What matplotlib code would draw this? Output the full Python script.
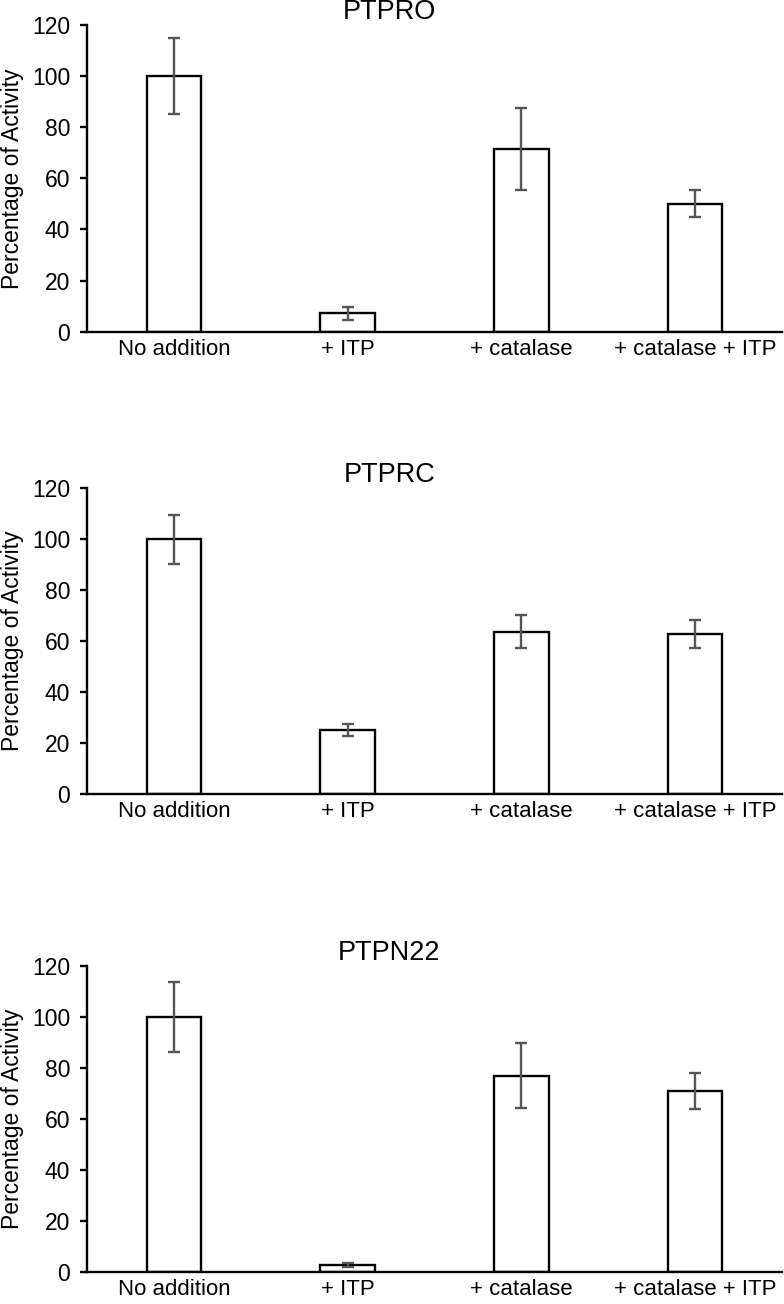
import numpy as np
import matplotlib
matplotlib.use('Agg')
from matplotlib import pyplot as plt

plt.rcParams['font.family'] = ['Liberation Sans', 'DejaVu Sans']

categories = ['No addition', '+ ITP', '+ catalase', '+ catalase + ITP']

ptpro_mean = [100, 7.2, 71.5, 50.0]
ptpro_err = [15.0, 2.6, 16.0, 5.3]

ptprc_mean = [100, 25.0, 63.7, 62.8]
ptprc_err = [9.6, 2.3, 6.5, 5.5]

ptpn22_mean = [100, 2.9, 77.0, 71.0]
ptpn22_err = [13.7, 0.8, 12.7, 7.0]

panels = [('PTPRO', ptpro_mean, ptpro_err),
          ('PTPRC', ptprc_mean, ptprc_err),
          ('PTPN22', ptpn22_mean, ptpn22_err)]

W, H = 784, 1304
fig = plt.figure(figsize=(W / 100, H / 100), dpi=100)

# axes boxes in pixels: (top, bottom)
boxes = [(25, 331.7), (488.3, 794), (965.7, 1272.3)]
left, right = 87, 782

x = np.arange(len(categories))
for (title, mean, err), (top, bottom) in zip(panels, boxes):
    ax = fig.add_axes([left / W, 1 - bottom / H, (right - left) / W, (bottom - top) / H])
    ax.bar(x, mean, width=0.315, color='white', edgecolor='black', linewidth=1.7, zorder=2)
    ax.errorbar(x, mean, yerr=err, fmt='none', ecolor='#555555', elinewidth=1.7,
                capsize=4, capthick=1.7, zorder=3)
    ax.set_xlim(-0.5, 3.5)
    ax.set_ylim(0, 120)
    ax.set_yticks(range(0, 121, 20))
    ax.set_xticks(x)
    ax.set_xticklabels(categories)
    ax.spines['top'].set_visible(False)
    ax.spines['right'].set_visible(False)
    ax.spines['left'].set_linewidth(1.7)
    ax.spines['bottom'].set_linewidth(1.7)
    ax.tick_params(axis='y', length=5, width=1.7, labelsize=16.5, pad=7)
    ax.tick_params(axis='x', length=0, labelsize=16, pad=5)
    ax.set_ylabel('Percentage of Activity', fontsize=16.5, labelpad=6)
    ax.set_title(title, fontsize=19.5, x=0.435, pad=3)

fig.savefig('out.png', dpi=100)
